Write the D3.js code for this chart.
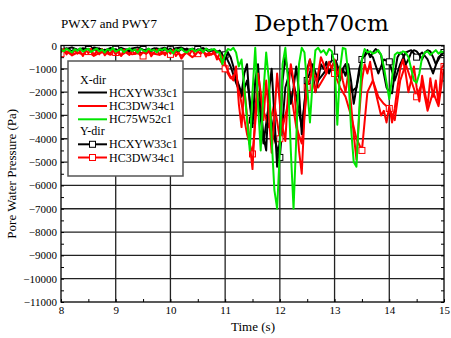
<!DOCTYPE html>
<html>
<head>
<meta charset="utf-8">
<script src="https://cdn.jsdelivr.net/npm/d3@7"></script>
<style>
  body { margin: 0; background: #fff; }
  svg text { font-family: 'Liberation Serif', 'DejaVu Serif', serif; }
</style>
</head>
<body>
<div id="chart"></div>
<script>
// X-dir series sampled every 0.05 s from 8.0 s, Y-dir series every 0.1 s
const X_START = 8;
const X_STEP = 0.05;
const Y_STEP = 0.1;

const greenX = [
    -180, -250, -140, -220, -300, -160, -230, -120, -260, -190,
    -140, -280, -200, -130, -250, -170, -300, -150, -220, -110,
    -260, -200, -150, -290, -180, -120, -240, -170, -310, -140,
    -210, -260, -130, -230, -180, -290, -150, -200, -120, -270,
    -190, -340, -160, -220, -130, -250, -300, -180, -140, -260,
    -200, -160, -290, -130, -230, -180, -150, -280, -300, -800,
    -350, -150, -200, -100, -300, -900, -600, -1800, -3200, -4500,
    -2000, -100, -2500, -4500, -2000, -300, -1500, -4000, -6200, -7000,
    -4500, -800, -100, -1500, -4500, -7000, -4000, -800, -100, -300,
    -1800, -3300, -1500, -200, -100, -300, -200, -400, -150, -250,
    -800, -3400, -1000, -100, -150, -1200, -3500, -5000, -5200, -2800,
    -600, -150, -300, -250, -350, -300, -200, -400, -900, -1600,
    -2300, -1400, -400, -300, -350, -250, -300, -500, -1000, -1500,
    -1600, -1200, -500, -300, -250, -400, -300, -200, -350, -250,
    -300
];

const blackX = [
    -150, -200, -120, -180, -250, -140, -190, -160, -220, -130,
    -170, -240, -150, -200, -130, -210, -180, -260, -140, -190,
    -160, -230, -120, -200, -170, -250, -150, -190, -220, -130,
    -180, -210, -150, -240, -170, -130, -200, -230, -160, -190,
    -140, -220, -170, -250, -150, -200, -130, -210, -180, -240,
    -160, -190, -230, -140, -200, -170, -250, -300, -220, -400,
    -600, -300, -500, -900, -1400, -1700, -2050, -1200, -800, -2500,
    -3500, -1500, -800, -2500, -3900, -4500, -2000, -1000, -3000, -5200,
    -4000, -1500, -500, -1200, -2500, -1800, -900, -2000, -3800, -2500,
    -1000, -600, -1200, -2000, -1500, -800, -1000, -700, -1200, -900,
    -700, -1100, -1500, -1000, -1300, -800, -1500, -2500, -1800, -1000,
    -600, -400, -200, -500, -300, -150, -250, -400, -1200, -1800,
    -2000, -2050, -1200, -500, -300, -400, -800, -600, -300, -200,
    -250, -400, -600, -300, -200, -250, -500, -800, -600, -400,
    -300
];

const redX = [
    -300, -150, -380, -220, -420, -180, -350, -260, -450, -200,
    -330, -170, -400, -250, -380, -150, -420, -280, -350, -200,
    -380, -240, -450, -180, -320, -400, -230, -360, -170, -420,
    -280, -350, -200, -460, -300, -180, -390, -250, -420, -220,
    -350, -190, -450, -300, -560, -400, -250, -380, -180, -420,
    -260, -350, -220, -480, -300, -380, -250, -600, -350, -500,
    -800, -1100, -1350, -1500, -900, -2500, -3500, -1800, -3000, -4200,
    -5300, -3000, -1200, -2000, -3200, -1500, -3000, -4600, -3000, -1200,
    -2500, -3500, -4100, -2000, -800, -1500, -3000, -4500, -5500, -3000,
    -1200, -600, -1500, -2000, -1200, -500, -800, -1200, -700, -1000,
    -600, -1300, -900, -1500, -2000, -1200, -2500, -3800, -4900, -3000,
    -1500, -800, -1200, -700, -1500, -2000, -2500, -3000, -2800, -3300,
    -2600, -3300, -2700, -1800, -1000, -600, -1200, -2000, -1500, -900,
    -1800, -2400, -1300, -2000, -2600, -1400, -2200, -1500, -2500, -1000,
    -800
];

const blackY = [
    -100, -150, -80, -200, -120, -170, -90, -140, -210, -110,
    -160, -100, -190, -130, -80, -170, -220, -120, -150, -100,
    -180, -120, -90, -200, -140, -170, -110, -250, -200, -300,
    -400, -900, -1600, -2200, -1500, -3200, -2000, -4200, -2500, -4000,
    -4800, -1800, -1000, -2200, -3500, -1500, -800, -1500, -1200, -800,
    -500, -1200, -800, -2000, -1800, -600, -300, -500, -1200, -600,
    -700, -1500, -800, -300, -200, -500, -300, -600, -1200, -500,
    -300
];

const redY = [
    -350, -250, -420, -300, -380, -260, -450, -320, -280, -400,
    -300, -420, -260, -380, -330, -450, -280, -350, -400, -300,
    -380, -270, -430, -320, -500, -350, -280, -420, -350, -600,
    -1000, -1400, -1200, -2500, -3800, -4650, -2000, -2800, -3500, -2500,
    -4000, -3000, -2000, -3500, -4200, -1800, -1000, -1800, -1400, -1000,
    -1200, -1800, -2200, -3000, -4000, -4500, -2000, -1500, -2200, -2500,
    -2700, -3200, -1500, -800, -1500, -2200, -1600, -2800, -2000, -2600,
    -900
];

const xTicks = [8, 9, 10, 11, 12, 13, 14, 15];
const yTicks = [0, -1000, -2000, -3000, -4000, -5000, -6000, -7000, -8000, -9000, -10000, -11000];

const width = 451;
const height = 338;
const margin = { top: 45.5, right: 7, bottom: 36, left: 61 };
const plotW = width - margin.left - margin.right;
const plotH = height - margin.top - margin.bottom;
const FONT = "'Liberation Serif', 'DejaVu Serif', serif";

const svg = d3.select('#chart').append('svg').attr('width', width).attr('height', height);

const x = d3.scaleLinear().domain([8, 15]).range([0, plotW]);
const y = d3.scaleLinear().domain([-11000, 0]).range([plotH, 0]);

const chart = svg.append('g').attr('transform', `translate(${margin.left}, ${margin.top})`);

svg.append('defs').append('clipPath').attr('id', 'clip')
    .append('rect').attr('width', plotW).attr('height', plotH);

// grid
chart.append('g').selectAll('line').data(xTicks.slice(1, -1)).enter().append('line')
    .attr('x1', (d) => x(d)).attr('x2', (d) => x(d))
    .attr('y1', 0).attr('y2', plotH)
    .attr('stroke', '#222').attr('stroke-width', 1.3);
chart.append('g').selectAll('line').data(yTicks.slice(1, -1)).enter().append('line')
    .attr('x1', 0).attr('x2', plotW)
    .attr('y1', (d) => y(d)).attr('y2', (d) => y(d))
    .attr('stroke', '#222').attr('stroke-width', 1.3);

// axes, ticks pointing inward
const fmt = (d) => d3.format('d')(d);
const minorX = d3.range(16, 31).map((d) => d / 2);
const minorY = d3.range(0, 23).map((d) => -d * 500);

function styleAxis(g) {
    g.attr('font-family', FONT).attr('font-size', 11);
    g.select('.domain').remove();
    g.selectAll('text').attr('fill', '#000');
    g.selectAll('line').attr('stroke', '#000');
}

chart.append('g').attr('transform', `translate(0, ${plotH})`)
    .call(d3.axisBottom(x).tickValues(minorX).tickSize(-3).tickFormat(''))
    .call(styleAxis);
chart.append('g').attr('transform', `translate(0, ${plotH})`)
    .call(d3.axisBottom(x).tickValues(xTicks).tickSize(0).tickPadding(4).tickFormat(fmt))
    .call(styleAxis);
chart.append('g')
    .call(d3.axisLeft(y).tickValues(minorY).tickSize(-3).tickFormat(''))
    .call(styleAxis);
chart.append('g')
    .call(d3.axisLeft(y).tickValues(yTicks).tickSize(0).tickPadding(4).tickFormat(fmt))
    .call(styleAxis);
chart.append('g').attr('transform', `translate(${plotW}, 0)`)
    .call(d3.axisRight(y).tickValues(minorY).tickSize(-3).tickFormat(''))
    .call(styleAxis);

// data lines
const series = [
    { values: blackY, step: Y_STEP, color: '#000', marker: true },
    { values: redY, step: Y_STEP, color: '#ff0000', marker: true },
    { values: blackX, step: X_STEP, color: '#000', marker: false },
    { values: redX, step: X_STEP, color: '#ff0000', marker: false },
    { values: greenX, step: X_STEP, color: '#00e600', marker: false }
];

const plot = chart.append('g').attr('clip-path', 'url(#clip)');

for (let s of series) {
    const pts = s.values.map((v, i) => ({ t: X_START + i * s.step, v: v }));
    const line = d3.line().x((d) => x(d.t)).y((d) => y(d.v));
    plot.append('path').datum(pts)
        .attr('d', line)
        .attr('fill', 'none')
        .attr('stroke', s.color)
        .attr('stroke-width', 2)
        .attr('stroke-linejoin', 'round');
    if (s.marker) {
        plot.selectAll(null).data(pts.filter((d, i) => i % 5 === 0)).enter().append('rect')
            .attr('x', (d) => x(d.t) - 3).attr('y', (d) => y(d.v) - 3)
            .attr('width', 6).attr('height', 6)
            .attr('fill', '#fff').attr('stroke', s.color).attr('stroke-width', 1);
    }
}

// frame
chart.append('rect').attr('width', plotW).attr('height', plotH)
    .attr('fill', 'none').attr('stroke', '#000').attr('stroke-width', 1.3);

// legend
const legend = svg.append('g').attr('transform', 'translate(68, 61)');
legend.append('rect').attr('width', 115).attr('height', 115)
    .attr('fill', '#fff').attr('stroke', '#555').attr('stroke-width', 1.5);

const legendItems = [
    { type: 'head', label: 'X-dir', dy: 19 },
    { label: 'HCXYW33c1', color: '#000', marker: false, dy: 31.5 },
    { label: 'HC3DW34c1', color: '#ff0000', marker: false, dy: 45 },
    { label: 'HC75W52c1', color: '#00e600', marker: false, dy: 58.3 },
    { type: 'head', label: 'Y-dir', dy: 70 },
    { label: 'HCXYW33c1', color: '#000', marker: true, dy: 83.3 },
    { label: 'HC3DW34c1', color: '#ff0000', marker: true, dy: 96.5 }
];

for (let it of legendItems) {
    if (it.type === 'head') {
        legend.append('text').attr('x', 12).attr('y', it.dy + 4)
            .attr('font-family', FONT).attr('font-size', 12).text(it.label);
        continue;
    }
    legend.append('line').attr('x1', 10).attr('x2', 39)
        .attr('y1', it.dy).attr('y2', it.dy)
        .attr('stroke', it.color).attr('stroke-width', 2);
    if (it.marker) {
        legend.append('rect').attr('x', 21.5).attr('y', it.dy - 3)
            .attr('width', 6).attr('height', 6)
            .attr('fill', '#fff').attr('stroke', it.color).attr('stroke-width', 1);
    }
    legend.append('text').attr('x', 41).attr('y', it.dy + 4)
        .attr('font-family', FONT).attr('font-size', 12).text(it.label);
}

// titles
svg.append('text').attr('x', 61).attr('y', 28).attr('font-family', FONT).attr('font-size', 13).text('PWX7 and PWY7');
svg.append('text').attr('x', 254).attr('y', 31)
    .style('font-family', "'DejaVu Serif', serif").attr('font-size', 23).text('Depth70cm');
svg.append('text').attr('x', 253).attr('y', 331).attr('text-anchor', 'middle')
    .attr('font-family', FONT).attr('font-size', 13).text('Time (s)');
svg.append('text').attr('transform', `translate(16, ${margin.top + plotH / 2}) rotate(-90)`)
    .attr('text-anchor', 'middle').attr('font-family', FONT).attr('font-size', 13).text('Pore Water Pressure (Pa)');
</script>
</body>
</html>
